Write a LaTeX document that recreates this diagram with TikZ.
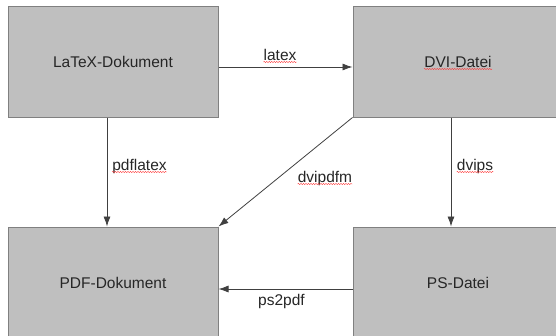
\documentclass[tikz,border=0pt]{standalone}
\usepackage{fontspec}
\setmainfont{Liberation Sans}
\usetikzlibrary{arrows.meta,decorations.pathmorphing}

\begin{document}
\begin{tikzpicture}[x=1pt,y=-1pt,
		box/.style={rectangle, draw=black!50, fill=black!25, line width=1pt, minimum width=210pt, minimum height=111pt, inner sep=0pt, text=black!85, font=\fontsize{15.5}{18}\selectfont},
		lbl/.style={inner sep=0pt, text=black!85, font=\fontsize{15.5}{18}\selectfont, anchor=base},
		arr/.style={black!75, line width=0.8pt, -{Latex[length=10pt,width=7pt]}},
		wavy/.style={red!80, line width=0.4pt, decorate, decoration={snake, amplitude=0.6pt, segment length=2.5pt}}]
			\useasboundingbox (0,0) rectangle (556,335);
			\clip (0,0) rectangle (556,335);
			\node[box] (ltx) at (113,61.5) {LaTeX-Dokument};
			\node[box] (dvi) at (458,61.5) {DVI-Datei};
			\node[box] (pdf) at (113,282.5) {PDF-Dokument};
			\node[box] (ps) at (458,282.5) {PS-Datei};
			\draw[arr] ([yshift=-5.5pt]ltx.east) -- ([yshift=-5.5pt]dvi.west);
			\draw[arr] ([xshift=-6pt]ltx.south) -- ([xshift=-6pt]pdf.north);
			\draw[arr] ([xshift=-7pt]dvi.south) -- ([xshift=-7pt]ps.north);
			\draw[arr] (dvi.south west) -- (pdf.north east);
			\draw[arr] ([yshift=-6.5pt]ps.west) -- ([yshift=-6.5pt]pdf.east);
			\node[lbl] (latex) at (280,60) {latex};
			\node[lbl] (pdflatex) at (139.5,170) {pdflatex};
			\node[lbl] (dvips) at (475,170) {dvips};
			\node[lbl] (dvipdfm) at (325,182) {dvipdfm};
			\node[lbl] (pstopdf) at (281.5,305) {ps2pdf};
			\draw[wavy] ([yshift=-2pt]latex.base west) -- ([yshift=-2pt]latex.base east);
			\draw[wavy] ([yshift=-2pt]pdflatex.base west) -- ([yshift=-2pt]pdflatex.base east);
			\draw[wavy] ([yshift=-2pt]dvips.base west) -- ([yshift=-2pt]dvips.base east);
			\draw[wavy] ([yshift=-2pt]dvipdfm.base west) -- ([yshift=-2pt]dvipdfm.base east);
			\draw[wavy] ([xshift=-34pt,yshift=-7.5pt]dvi.center) -- ([xshift=34pt,yshift=-7.5pt]dvi.center);
\end{tikzpicture}
\end{document}
